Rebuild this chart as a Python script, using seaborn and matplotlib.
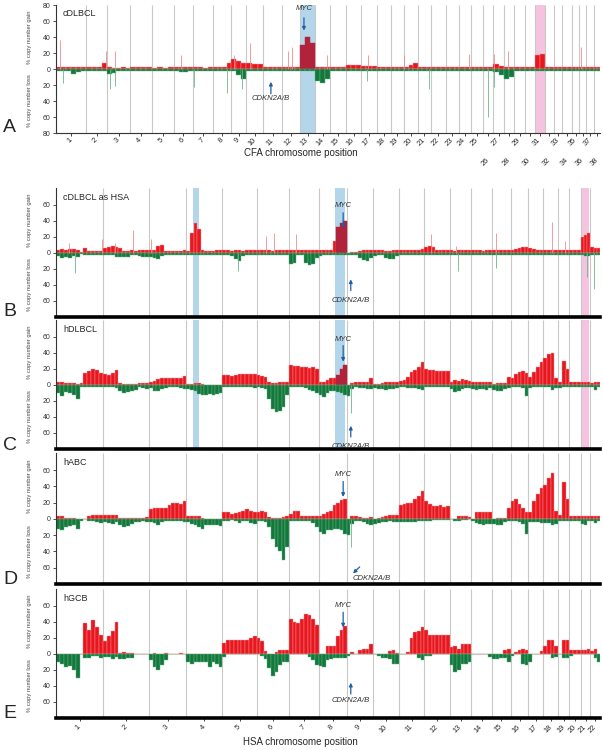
import numpy as np
import pandas as pd
import matplotlib
matplotlib.use("Agg")
import seaborn as sns
from matplotlib import pyplot as plt

# chromosome lengths (Mb)
hsa_len = [249.3, 243.2, 198.0, 191.2, 180.9, 171.1, 159.1, 146.4, 141.2, 135.5, 135.0,
           133.9, 115.2, 107.3, 102.5, 90.4, 81.2, 78.1, 59.1, 63.0, 48.1, 51.3]
cfa_len = [122.7, 85.4, 91.9, 88.3, 88.9, 77.6, 81.0, 74.3, 61.1, 69.3, 74.4, 72.5, 63.2,
           61.0, 64.2, 59.6, 64.3, 55.8, 53.7, 58.1, 50.9, 61.4, 52.3, 47.7, 51.6, 39.0,
           45.9, 41.2, 42.0, 40.2, 39.8, 38.8, 31.4, 42.1, 26.5, 30.8, 30.9, 23.9]

# % of cases, per chromosome, equal segments along each chromosome
a_gain = [[3, 3, 2, 2, 2, 3], [3, 3, 3, 8], [2, 1, 1, 2, 1], [3, 3, 2, 2], [1, 2, 1, 2],
          [2, 2, 3, 2], [2, 2, 1, 2], [2, 2, 2, 8], [12, 10, 8], [7, 6, 6], [2, 2, 2, 2],
          [2, 2, 3, 3], [30, 40, 33], [3, 2, 2], [2, 2, 2], [5, 5, 5], [4, 4, 4], [2, 2, 2],
          [2, 2, 2], [3, 5, 7], [2, 2, 2], [2, 2, 2], [2, 2, 2], [2, 2], [2, 2, 2], [2, 2],
          [6, 4], [2, 2], [2, 2], [2, 2], [17, 19], [2, 2], [2, 2], [2, 2], [2, 2], [2, 2],
          [2, 2], [2, 2]]
a_loss = [[2, 3, 2, 6, 4, 2], [2, 2, 2, 2], [6, 5, 3, 3, 2], [2, 2, 2, 2], [3, 2, 2, 3],
          [2, 4, 4, 2], [3, 3, 3, 2], [2, 2, 2, 2], [3, 8, 12], [3, 2, 2], [2, 2, 2, 2],
          [2, 2, 2, 2], [2, 2, 2], [15, 17, 12], [3, 2, 2], [2, 2, 2], [2, 2, 3], [2, 2, 2],
          [2, 2, 3], [3, 2, 2], [2, 2, 2], [3, 3, 2], [2, 2, 2], [2, 2], [2, 2, 2], [2, 3],
          [4, 8], [12, 10], [3, 2], [2, 2], [2, 2], [2, 2], [3, 3], [2, 2], [2, 2], [2, 2],
          [2, 2], [2, 2]]
a_spike_chr = [1, 2, 3, 6, 10, 12, 12, 14, 20, 24, 27, 28, 36, 9, 17,
               1, 3, 3, 7, 8, 9, 21, 26, 27, 17]
a_spike_mb = [16, 80, 31, 30, 14, 25, 42, 47, 2, 42, 4, 14, 10, 10, 30,
              30, 11, 31, 4, 56, 44, 45, 20, 4, 25]
a_spike_val = [36, 23, 23, 17, 32, 23, 28, 17, 17, 19, 19, 23, 27, 18, 17,
               -17, -25, -21, -23, -30, -25, -25, -60, -23, -15]

b_gain = [[4, 5, 4, 5, 5, 4, 1, 6, 2, 2, 2, 2], [6, 7, 8, 7, 6, 2, 2, 3, 2, 4, 4, 4],
          [4, 4, 8, 10, 2, 2, 2, 2, 2, 3], [2, 25, 37, 30, 3, 2, 2, 2, 3, 3],
          [3, 3, 2, 3, 3, 2, 3, 3, 3], [3, 3, 3, 3, 2, 3, 4, 4, 4], [4, 3, 3, 3, 3, 4, 4, 4],
          [4, 4, 4, 4, 15, 32, 37, 40], [0, 1, 1, 2, 3, 3, 3], [3, 3, 3, 2, 2, 3, 3],
          [3, 3, 3, 3, 4, 4, 5], [7, 8, 7, 3, 3, 3, 3], [3, 2, 3, 3, 3, 3], [3, 3, 3, 2, 3, 3],
          [3, 3, 3, 3, 3], [3, 5, 6, 7, 7], [6, 5, 4, 4], [4, 4, 4, 4], [3, 3, 3], [3, 3, 3],
          [20, 22, 25], [7, 6, 6]]
b_loss = [[4, 6, 5, 6, 4, 5, 1, 2, 2, 2, 2, 2], [2, 2, 2, 5, 5, 5, 5, 2, 2, 4, 5, 5],
          [5, 6, 8, 4, 2, 2, 2, 2, 2, 2], [2, 2, 2, 2, 2, 2, 2, 3, 3, 3],
          [3, 3, 4, 8, 10, 4, 3, 3, 2], [2, 2, 2, 2, 2, 3, 3, 3, 3], [14, 12, 3, 3, 12, 15, 14, 6],
          [4, 3, 3, 3, 3, 2, 2, 2], [2, 2, 2, 6, 9, 10, 6], [4, 3, 3, 6, 8, 8, 4],
          [2, 2, 2, 2, 2, 2, 2], [2, 2, 2, 2, 2, 2, 2], [2, 2, 2, 2, 2, 2], [2, 2, 2, 2, 3, 3],
          [3, 2, 2, 2, 2], [2, 2, 3, 3, 3], [3, 3, 3, 3], [3, 2, 2, 2], [2, 2, 2], [2, 2, 3],
          [3, 4, 4], [3, 3, 3]]
b_spike_chr = [1, 1, 2, 2, 3, 6, 6, 7, 12, 13, 15, 18, 19, 1, 5, 13, 15, 21, 22]
b_spike_mb = [69, 243, 63, 159, 10, 48, 91, 38, 35, 33, 24, 46, 37, 100, 83, 43, 24, 29, 20]
b_spike_val = [12, 17, 12, 28, 17, 21, 25, 24, 24, 9, 25, 39, 15, -25, -23, -23, -19, -30, -45]

c_gain = [[3, 3, 2, 2, 2, 1, 2, 15, 17, 20, 18, 15], [13, 12, 15, 19, 2, 1, 1, 1, 1, 2, 2, 2],
          [3, 5, 7, 8, 8, 9, 9, 9, 9, 11], [1, 1, 2, 2, 1, 0, 0, 0, 0, 0],
          [12, 12, 11, 12, 13, 13, 14, 14, 13], [12, 11, 10, 4, 2, 2, 3, 4, 4],
          [25, 24, 23, 22, 22, 21, 22, 20], [3, 4, 6, 8, 9, 12, 20, 25], [0, 2, 3, 3, 3, 4, 8],
          [1, 1, 2, 3, 3, 3, 4], [5, 6, 10, 16, 18, 22, 28], [20, 18, 18, 17, 17, 17, 17],
          [3, 6, 5, 7, 6, 5], [3, 4, 4, 4, 4, 4], [1, 2, 2, 2, 10], [8, 14, 16, 17, 15],
          [10, 16, 22, 28], [34, 38, 40, 8], [4, 30, 20], [4, 4, 4], [3, 4, 3], [2, 4, 3]]
c_loss = [[10, 14, 9, 10, 12, 17, 2, 3, 3, 2, 2, 3], [3, 3, 3, 4, 8, 10, 9, 8, 6, 3, 4, 5],
          [4, 8, 8, 5, 4, 3, 3, 3, 4, 5], [5, 6, 8, 11, 12, 12, 11, 12, 11, 10],
          [2, 2, 2, 3, 3, 2, 2, 3, 4], [3, 4, 5, 18, 30, 34, 32, 28, 12],
          [3, 3, 2, 3, 4, 6, 8, 10], [12, 15, 10, 8, 8, 9, 10, 12], [14, 5, 3, 4, 4, 5, 5],
          [4, 5, 5, 6, 5, 5, 4], [3, 3, 4, 4, 4, 5, 6], [2, 3, 2, 3, 2, 2, 2], [5, 9, 8, 5, 4, 4],
          [5, 6, 5, 5, 6, 4], [6, 8, 8, 5, 4], [2, 2, 3, 4, 14], [4, 3, 3, 3], [3, 3, 6, 4],
          [4, 3, 3], [2, 2, 2], [3, 3, 3], [3, 6, 3]]
c_spike_chr = [9]
c_spike_mb = [22]
c_spike_val = [-35]

d_gain = [[4, 3, 1, 1, 1, 0, 0, 0, 4, 5, 5, 5], [5, 5, 5, 5, 1, 1, 1, 1, 1, 1, 1, 2],
          [12, 13, 13, 13, 14, 17, 19, 19, 18, 22], [4, 4, 4, 4, 1, 0, 0, 0, 0, 0],
          [8, 8, 6, 7, 8, 10, 12, 10, 8], [9, 10, 8, 2, 1, 1, 1, 2, 3],
          [6, 10, 10, 4, 3, 3, 3, 4], [4, 6, 8, 10, 17, 20, 23, 24], [0, 4, 4, 2, 1, 1, 2],
          [0, 1, 2, 4, 5, 5, 5], [17, 18, 20, 20, 24, 28, 34], [22, 18, 16, 16, 17, 15, 16],
          [0, 0, 3, 3, 3, 2], [0, 8, 8, 8, 8, 8], [0, 1, 1, 1, 14], [22, 24, 18, 14, 8],
          [8, 22, 30, 38], [42, 50, 57, 10], [5, 45, 25], [4, 4, 4], [4, 4, 3], [3, 4, 4]]
d_loss = [[12, 14, 10, 9, 8, 12, 2, 0, 2, 3, 4, 5], [4, 5, 6, 4, 8, 10, 9, 6, 4, 4, 3, 4],
          [4, 5, 8, 4, 3, 3, 3, 3, 3, 4], [4, 6, 8, 10, 12, 8, 8, 8, 8, 9],
          [2, 2, 1, 2, 5, 2, 2, 5, 6], [3, 3, 4, 10, 25, 34, 40, 50, 35],
          [2, 2, 2, 2, 2, 3, 5, 10], [16, 18, 14, 14, 12, 12, 14, 18], [20, 6, 3, 2, 4, 6, 8],
          [6, 5, 4, 4, 3, 4, 4], [4, 4, 4, 4, 4, 3, 3], [2, 2, 1, 1, 1, 1, 1], [0, 3, 2, 1, 1, 0],
          [2, 5, 6, 7, 6, 6], [6, 8, 7, 4, 3], [3, 3, 4, 6, 18], [4, 4, 4, 5], [5, 5, 8, 6],
          [3, 3, 3], [3, 3, 3], [6, 7, 3], [3, 5, 3]]
d_spike_chr = [9]
d_spike_mb = [22]
d_spike_val = [-35]

e_gain = [[0, 0, 0, 0, 0, 0, 0, 38, 30, 42, 33, 23], [16, 22, 28, 40, 1, 2, 1, 1, 0, 0, 0, 0],
          [0, 1, 0, 0, 1, 0, 0, 0, 1, 0], [0, 0, 0, 0, 0, 0, 0, 0, 0, 0],
          [14, 17, 17, 17, 17, 17, 17, 20, 22], [20, 16, 3, 0, 0, 2, 5, 5, 5],
          [44, 40, 38, 44, 50, 49, 44, 36], [0, 0, 10, 10, 10, 22, 30, 35], [0, 2, 0, 5, 6, 6, 12],
          [0, 0, 0, 0, 3, 5, 1], [0, 0, 2, 20, 27, 28, 33], [30, 23, 23, 23, 23, 23, 23],
          [8, 10, 6, 12, 12, 12], [0, 0, 0, 0, 0, 0], [0, 0, 0, 5, 6], [0, 2, 5, 6, 5],
          [0, 0, 0, 4], [10, 17, 17, 10], [0, 17, 17], [5, 5, 5], [5, 5, 6], [3, 6, 0]]
e_loss = [[10, 12, 16, 15, 20, 30, 0, 5, 5, 2, 2, 5], [4, 4, 6, 4, 6, 6, 5, 5, 0, 0, 0, 0],
          [8, 16, 20, 14, 8, 0, 0, 0, 0, 0], [10, 12, 10, 10, 10, 10, 16, 10, 12, 16],
          [4, 0, 0, 0, 0, 0, 0, 0, 0], [0, 2, 6, 18, 27, 22, 14, 10, 10],
          [0, 0, 0, 0, 0, 4, 8, 14], [15, 16, 8, 6, 5, 5, 5, 5], [3, 0, 0, 0, 0, 0, 0],
          [0, 3, 5, 5, 6, 12, 12], [0, 0, 0, 0, 0, 5, 8], [3, 2, 0, 0, 0, 0, 0],
          [14, 22, 20, 12, 12, 10], [0, 0, 0, 0, 0, 4], [6, 6, 5, 5, 10], [2, 0, 0, 12, 14],
          [10, 0, 0, 0], [0, 0, 5, 4], [0, 5, 5], [2, 0, 0], [0, 0, 0], [0, 5, 10]]

# highlighted regions (genome Mb) and gene positions (chromosome, Mb)
cfa_blue = (987.4, 1050.6)
cfa_pink = (1939.5, 1979.3)
hsa_blue = [(726, 758), (1480, 1533)]
hsa_pink = (2782, 2821)
myc_cfa, cdkn_cfa = (13, 17), (11, 30)
myc_hsa, cdkn_hsa = (8, 128), (9, 22)

GAIN, GAIN_EDGE, GAIN_DARK = "#e8161e", "#f39a9a", "#b0233b"
LOSS, LOSS_EDGE = "#13783c", "#6cb68a"
BLUE, PINK, ARROW = "#b4d6ea", "#f5c3df", "#1f5fa8"

sns.set_theme(style="ticks")
plt.rcParams["font.family"] = ["Liberation Sans", "DejaVu Sans"]


def offsets(lengths):
    return np.concatenate([[0.0], np.cumsum(lengths)])


def seg_table(lengths, values):
    off = offsets(lengths)
    rows = []
    for i, ln in enumerate(lengths):
        n = len(values[i])
        for j, v in enumerate(values[i]):
            rows.append((off[i] + ln * j / n, off[i] + ln * (j + 1) / n, v))
    df = pd.DataFrame(rows, columns=["start", "end", "value"])
    df["mid"] = (df["start"] + df["end"]) / 2
    return df


def hist_bars(ax, df, color, edge):
    # bins given as a plain list (seaborn compares bins with "auto")
    edges = list(df["start"].values) + [df["end"].values[-1]]
    sns.histplot(data=df, x="mid", weights="w", bins=edges, ax=ax, color=color,
                 edgecolor=edge, linewidth=0.3, alpha=1, legend=False)


def draw_series(ax, lengths, values, sign, color, edge, dark=None, bands=()):
    df = seg_table(lengths, values)
    inside = np.zeros(len(df), bool)
    for lo, hi in bands:
        inside |= ((df["mid"] > lo) & (df["mid"] < hi)).values
    if dark is None:
        inside[:] = False
    df["w"] = np.where(inside, 0, sign * df["value"].values)
    hist_bars(ax, df, color, edge)
    if dark is not None:
        for lo, hi in bands:
            sub = df[(df["mid"] > lo) & (df["mid"] < hi)].copy()
            if len(sub) == 0:
                continue
            sub["w"] = sign * sub["value"]
            hist_bars(ax, sub, dark, dark)


def draw_spikes(ax, lengths, chrs, mbs, vals):
    off = offsets(lengths)
    x = np.array([off[c - 1] + m for c, m in zip(chrs, mbs)])
    v = np.array(vals, float)
    ax.vlines(x[v > 0], 0, v[v > 0], colors="#f08c8c", lw=0.6, zorder=2)
    ax.vlines(x[v < 0], 0, v[v < 0], colors="#6cb68a", lw=0.6, zorder=2)


def setup_axis(ax, lengths, ylim, yticks, thick):
    off = offsets(lengths)
    ax.set_xlim(0, off[-1])
    ax.set_ylim(*ylim)
    ax.vlines(off[1:-1], ylim[0], ylim[1], colors="#c8c8c8", lw=0.8, zorder=0.5)
    ax.axhline(0, color="#e6b0b0", lw=0.4, zorder=0.6)
    ax.set_yticks(yticks, [str(abs(t)) for t in yticks])
    ax.tick_params(axis="y", labelsize=5, length=2.5, width=0.6, pad=1.5, colors="#333333")
    sns.despine(ax=ax)
    ax.spines["left"].set_linewidth(0.8)
    ax.spines["left"].set_color("#333333")
    ax.spines["bottom"].set_linewidth(2.6 if thick else 0.8)
    ax.spines["bottom"].set_color("black" if thick else "#333333")
    ax.set_xlabel("")
    ax.set_ylabel("")
    tr = ax.get_yaxis_transform()
    ax.text(-0.048, ylim[1] / 2, "% copy number gain", transform=tr, rotation=90,
            fontsize=4.2, ha="center", va="center", color="#444444")
    ax.text(-0.048, ylim[0] / 2, "% copy number loss", transform=tr, rotation=90,
            fontsize=4.2, ha="center", va="center", color="#444444")


def gene_mark(ax, lengths, gene, name, y_text, y_tail, y_head):
    off = offsets(lengths)
    x = off[gene[0] - 1] + gene[1]
    ax.annotate("", xy=(x, y_head), xytext=(x, y_tail),
                arrowprops=dict(arrowstyle="-|>", color=ARROW, lw=0.9, mutation_scale=5,
                                shrinkA=0, shrinkB=0), zorder=5)
    ax.text(x, y_text, name, fontsize=5.5, style="italic", ha="center",
            va="center", color="#333333", zorder=5)


W, H = 603, 750
fig = plt.figure(figsize=(W / 100, H / 100), dpi=100)


def add_axes(top, bottom):
    return fig.add_axes([56 / W, 1 - bottom / H, 544 / W, (bottom - top) / H])


axA = add_axes(5, 133)
axB = add_axes(188, 317)
axC = add_axes(320, 449)
axD = add_axes(453, 584)
axE = add_axes(589, 718)

# ---- panel A (canine genome)
axA.axvspan(*cfa_blue, color=BLUE, lw=0, zorder=0.2)
axA.axvspan(*cfa_pink, color=PINK, lw=0, zorder=0.2)
draw_series(axA, cfa_len, a_gain, 1, GAIN, GAIN_EDGE, GAIN_DARK, [cfa_blue])
draw_series(axA, cfa_len, a_loss, -1, LOSS, LOSS_EDGE)
draw_spikes(axA, cfa_len, a_spike_chr, a_spike_mb, a_spike_val)
setup_axis(axA, cfa_len, (-80, 80), list(range(-80, 81, 20)), False)
off = offsets(cfa_len)
centers = (off[:-1] + off[1:]) / 2
row2 = [c for c in range(26, 39, 2)]
row1 = [c for c in range(1, 39) if c not in row2]
axA.set_xticks([centers[c - 1] for c in row1], [str(c) for c in row1], rotation=45,
               ha="right", va="center", rotation_mode="anchor", fontsize=5.3)
axA.set_xticks([centers[c - 1] for c in row2], [str(c) for c in row2], minor=True,
               rotation=45, ha="right", va="center", rotation_mode="anchor", fontsize=5.3)
axA.tick_params(axis="x", which="major", length=2.5, width=0.6, pad=2)
axA.tick_params(axis="x", which="minor", length=2.5, width=0.6, pad=16)
axA.text(0.013, 0.93, "cDLBCL", transform=axA.transAxes, fontsize=6.5, va="center")
gene_mark(axA, cfa_len, myc_cfa, "MYC", 75, 64, 48)
gene_mark(axA, cfa_len, cdkn_cfa, "CDKN2A/B", -37, -31, -16)
fig.text(301 / W, 1 - 153 / H, "CFA chromosome position", fontsize=7, ha="center", va="center")

# ---- panels B-E (human genome)
hsa_panels = [
    (axB, b_gain, b_loss, "cDLBCL as HSA", (b_spike_chr, b_spike_mb, b_spike_val), True),
    (axC, c_gain, c_loss, "hDLBCL", (c_spike_chr, c_spike_mb, c_spike_val), True),
    (axD, d_gain, d_loss, "hABC", (d_spike_chr, d_spike_mb, d_spike_val), False),
    (axE, e_gain, e_loss, "hGCB", None, False),
]
for ax, gain, loss, title, spikes, bands in hsa_panels:
    if bands:
        for lo, hi in hsa_blue:
            ax.axvspan(lo, hi, color=BLUE, lw=0, zorder=0.2)
        ax.axvspan(*hsa_pink, color=PINK, lw=0, zorder=0.2)
    draw_series(ax, hsa_len, gain, 1, GAIN, GAIN_EDGE,
                GAIN_DARK if bands else None, hsa_blue[1:] if bands else ())
    draw_series(ax, hsa_len, loss, -1, LOSS, LOSS_EDGE)
    if spikes is not None:
        draw_spikes(ax, hsa_len, *spikes)
    setup_axis(ax, hsa_len, (-80, 81), list(range(-60, 61, 20)), True)
    ax.text(0.013, 0.93, title, transform=ax.transAxes, fontsize=6.5, va="center")
    ax.set_xticks([])

gene_mark(axB, hsa_len, myc_hsa, "MYC", 59, 50, 31)
gene_mark(axB, hsa_len, cdkn_hsa, "CDKN2A/B", -60, -47, -33)
gene_mark(axC, hsa_len, myc_hsa, "MYC", 57, 49, 29)
gene_mark(axC, hsa_len, cdkn_hsa, "CDKN2A/B", -77, -65, -51)
gene_mark(axD, hsa_len, myc_hsa, "MYC", 55, 46, 27)
off_h = offsets(hsa_len)
x_cd = off_h[cdkn_hsa[0] - 1] + cdkn_hsa[1]
axD.annotate("", xy=(x_cd + 12, -67), xytext=(x_cd + 47, -59),
             arrowprops=dict(arrowstyle="-|>", color=ARROW, lw=0.9, mutation_scale=5,
                             shrinkA=0, shrinkB=0), zorder=5)
axD.text(x_cd + 12, -73, "CDKN2A/B", fontsize=5.5, style="italic", ha="left",
         va="center", color="#333333")
gene_mark(axE, hsa_len, myc_hsa, "MYC", 61, 52, 33)
gene_mark(axE, hsa_len, cdkn_hsa, "CDKN2A/B", -58, -50, -36)

centers_h = (off_h[:-1] + off_h[1:]) / 2
axE.set_xticks(centers_h, [str(i + 1) for i in range(22)], rotation=45, ha="right",
               va="center", rotation_mode="anchor", fontsize=5.3)
axE.tick_params(axis="x", length=2.5, width=0.6, pad=3)
fig.text(300 / W, 1 - 742 / H, "HSA chromosome position", fontsize=7, ha="center", va="center")

for letter, y in zip("ABCDE", [128, 312, 446, 580, 713]):
    fig.text(3 / W, 1 - y / H, letter, fontsize=14, ha="left", va="center")

fig.savefig("out.png", dpi=100)
